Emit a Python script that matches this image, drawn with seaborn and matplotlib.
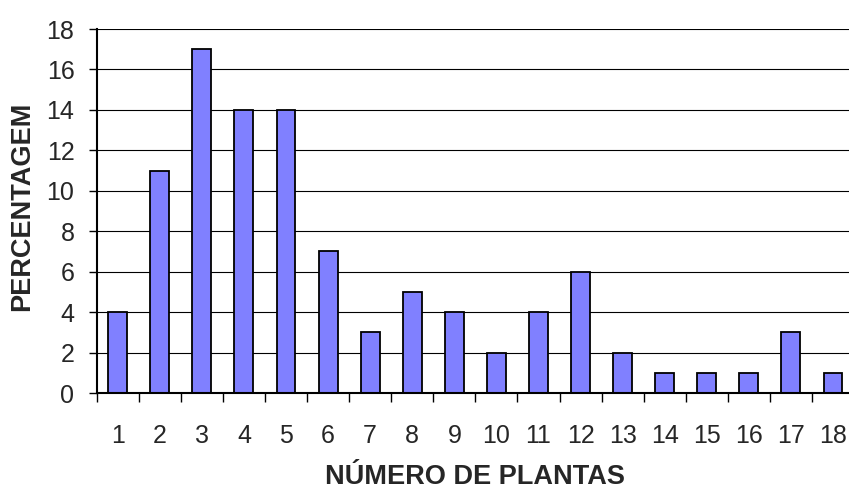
import matplotlib
matplotlib.use("Agg")
import matplotlib.pyplot as plt
import seaborn as sns
import pandas as pd
import numpy as np
from matplotlib.ticker import FixedLocator

plantas = [str(i) for i in range(1, 19)]
percentagem = [4, 11, 17, 14, 14, 7, 3, 5, 4, 2, 4, 6, 2, 1, 1, 1, 3, 1]

sns.set_theme(style="white")
plt.rcParams["font.family"] = ["Liberation Sans", "DejaVu Sans"]

df = pd.DataFrame({"plantas": plantas, "percentagem": percentagem})

fig = plt.figure(figsize=(8.49, 4.92), dpi=100)
ax = fig.add_axes([0.1139, 0.2012, 0.892, 0.7398])

sns.barplot(data=df, x="plantas", y="percentagem", order=plantas,
            color="#8080FF", saturation=1, width=0.45,
            edgecolor="black", linewidth=1.3, ax=ax, zorder=3)

ax.set_ylim(0, 18)
ax.set_xlim(-0.5, len(plantas) - 0.5)
ax.set_yticks(np.arange(0, 19, 2))
ax.yaxis.grid(True, color="black", linewidth=0.8)
ax.set_axisbelow(True)

for side in ["top", "right"]:
    ax.spines[side].set_visible(False)
for side in ["left", "bottom"]:
    ax.spines[side].set_color("black")
    ax.spines[side].set_linewidth(1.5)
    ax.spines[side].set_zorder(4)

# labels centred on the categories, tick marks on the category boundaries
ax.xaxis.set_minor_locator(FixedLocator(np.arange(-0.5, len(plantas), 1.0)))
ax.tick_params(axis="x", which="major", length=0, pad=22.5, labelsize=18)
ax.tick_params(axis="x", which="minor", length=6.5, width=1, color="black",
               direction="out", bottom=True)
ax.tick_params(axis="y", which="major", length=6, width=1, color="black",
               direction="out", left=True, pad=10, labelsize=18)

ax.set_xlabel("NÚMERO DE PLANTAS", fontsize=19.5, fontweight="bold")
ax.set_ylabel("PERCENTAGEM", fontsize=19.5, fontweight="bold")
ax.xaxis.set_label_coords(0.5, -0.232)
ax.xaxis.label.set_verticalalignment("center")
ax.yaxis.set_label_coords(-0.0986, 0.512)
ax.yaxis.label.set_verticalalignment("center")
ax.yaxis.label.set_horizontalalignment("center")

fig.savefig("out.png", dpi=100)
